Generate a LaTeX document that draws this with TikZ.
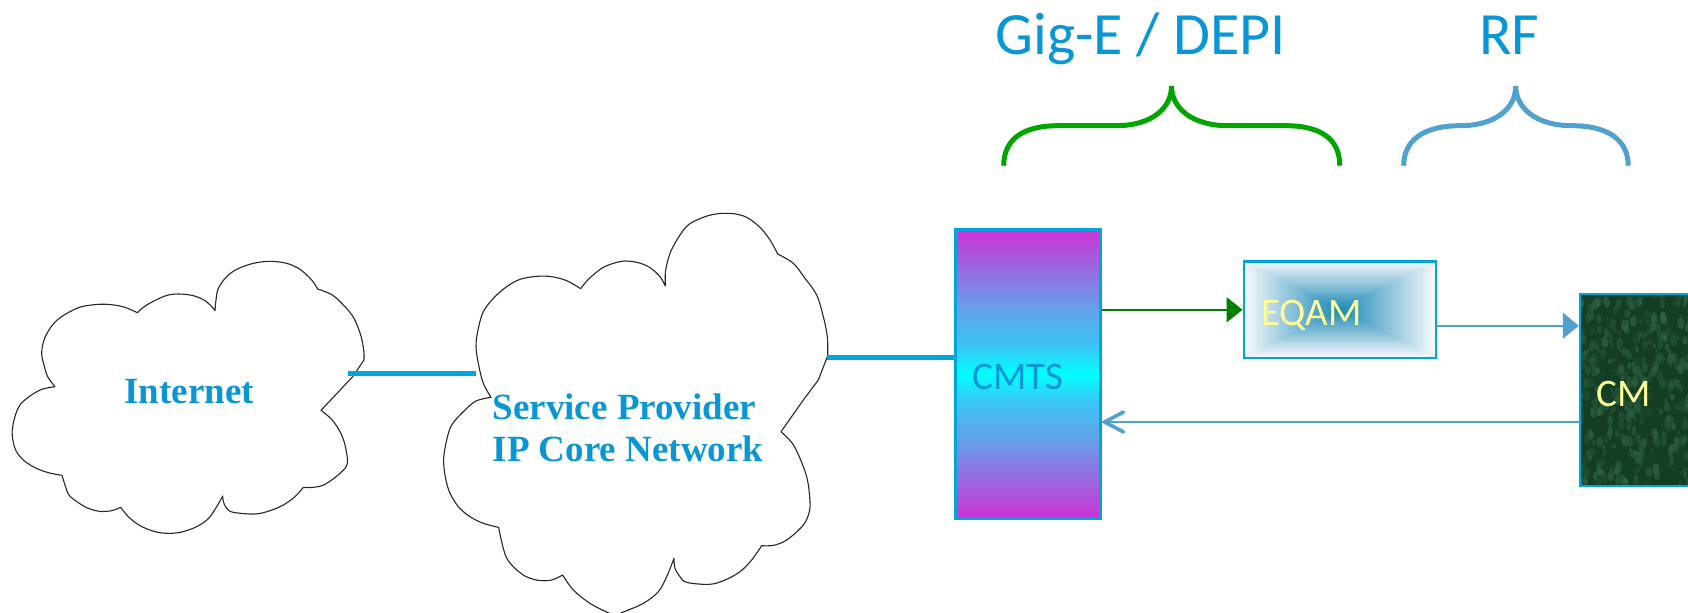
\documentclass[tikz,border=0pt]{standalone}
\usepackage{fontspec}
\setmainfont{Liberation Serif}
\newfontfamily\boxfont{Carlito}
\usetikzlibrary{arrows.meta}
\definecolor{linkblue}{RGB}{0,165,220}
\definecolor{labelblue}{RGB}{8,150,215}
\definecolor{rfblue}{RGB}{80,160,208}
\definecolor{bracegreen}{RGB}{0,165,0}
\definecolor{arrowgreen}{RGB}{0,128,0}
\definecolor{cmtspink}{RGB}{205,50,215}
\definecolor{cmtsblue}{RGB}{98,163,234}
\definecolor{cmtssky}{RGB}{60,196,245}
\definecolor{eqamcore}{RGB}{25,135,180}
\definecolor{eqamedge}{RGB}{245,249,252}
\definecolor{cmgreen}{RGB}{20,62,36}
\definecolor{cmspot}{RGB}{70,135,95}
\definecolor{paleyellow}{RGB}{255,255,153}
\pgfdeclareverticalshading{cmtsfade}{100bp}{color(0bp)=(cmtspink); color(25bp)=(cmtspink); color(39bp)=(cmtsblue); color(45bp)=(cmtssky); color(50bp)=(cyan); color(55bp)=(cmtssky); color(61bp)=(cmtsblue); color(75bp)=(cmtspink); color(100bp)=(cmtspink)}
\tikzset{
  cloudline/.style={draw=black!85, line width=0.55pt, line join=round},
  cloudarc/.style={smooth, tension=0.55},
  cloudtext/.style={text=labelblue, inner sep=0pt, anchor=base west, align=left, font=\fontsize{18.5}{21}\selectfont\bfseries},
  boxline/.style={draw=linkblue, line width=1.25pt, inner sep=0pt},
  boxtext/.style={inner sep=0pt, anchor=base west, font=\boxfont\fontsize{19.5}{24}\selectfont},
  toptext/.style={text=labelblue, inner sep=0pt, anchor=base west, font=\boxfont\fontsize{30}{36}\selectfont},
  corelink/.style={linkblue, line width=2.75pt},
  brace/.style={line width=2.5pt}
}
\begin{document}
\begin{tikzpicture}[x=0.5pt,y=-0.5pt]
  \useasboundingbox (0,0) rectangle (1688,612);

  \begin{scope}[shift={(0,200)},x=0.16667pt,y=-0.16667pt]
    \draw[cloudline] plot[cloudarc] coordinates {(412,338) (440,315) (495,288) (535,282) (580,287) (615,302) (640,325) (645,332)}
      -- plot[cloudarc] coordinates {(645,332) (648,300) (655,265) (680,230) (712,207) (760,190) (810,184) (860,190) (900,208) (935,240) (953,267)}
      -- plot[cloudarc] coordinates {(953,267) (997,285) (1035,320) (1062,355) (1082,405) (1091,450) (1092,480)}
      -- (1058,530) -- (963,631)
      -- plot[cloudarc] coordinates {(963,631) (995,658) (1020,695) (1035,735) (1042,790) (1020,820) (975,853) (940,862) (910,862)}
      -- plot[cloudarc] coordinates {(910,862) (885,890) (850,915) (810,932) (765,942) (700,937) (680,925) (670,905) (668,888)}
      -- plot[cloudarc] coordinates {(668,888) (650,920) (625,956) (590,980) (545,996) (505,1000) (465,995) (420,977) (385,950) (362,922)}
      -- plot[cloudarc] coordinates {(362,922) (335,932) (300,934) (265,925) (235,908) (207,885) (195,855) (186,826)}
      -- plot[cloudarc] coordinates {(186,826) (145,818) (105,803) (70,780) (47,750) (37,710) (38,680) (48,640) (62,612) (90,588) (125,568) (165,560)}
      -- plot[cloudarc] coordinates {(165,560) (143,530) (132,495) (125,460) (132,420) (150,385) (175,357) (210,335) (245,320) (295,313) (335,314) (375,322) (412,338)} -- cycle;
  \end{scope}
  \begin{scope}[shift={(430,200)},x=0.16667pt,y=-0.16667pt]
    \draw[cloudline] plot[cloudarc] coordinates {(452,266) (475,238) (515,205) (550,190) (585,183) (625,188) (660,203) (690,230) (706,258)}
      -- plot[cloudarc] coordinates {(706,258) (707,210) (722,155) (750,105) (778,72) (825,50) (865,41) (910,41) (950,52) (990,82) (1020,120) (1043,162)}
      -- plot[cloudarc] coordinates {(1043,162) (1090,190) (1125,235) (1160,285) (1180,350) (1192,410) (1193,467)}
      -- (1165,540) -- (1120,600) -- (1053,695)
      -- plot[cloudarc] coordinates {(1053,695) (1087,730) (1110,775) (1130,830) (1138,880) (1139,930) (1120,975) (1070,1020) (1030,1036) (995,1037)}
      -- plot[cloudarc] coordinates {(995,1037) (965,1080) (930,1115) (885,1140) (838,1153) (770,1147) (750,1130) (735,1105) (732,1075)}
      -- plot[cloudarc] coordinates {(732,1075) (710,1130) (685,1175) (640,1210) (580,1236) (555,1245) (530,1236) (480,1210) (430,1170) (398,1125)}
      -- plot[cloudarc] coordinates {(398,1125) (365,1140) (325,1141) (285,1128) (250,1100) (228,1070) (215,1025) (206,982)}
      -- plot[cloudarc] coordinates {(206,982) (160,970) (120,950) (85,920) (58,875) (45,825) (41,775) (50,720) (65,675) (100,635) (138,603) (183,592)}
      -- plot[cloudarc] coordinates {(183,592) (160,550) (147,500) (138,440) (145,385) (160,335) (190,295) (230,260) (270,238) (320,229) (365,230) (410,242) (452,266)} -- cycle;
  \end{scope}

  \node[cloudtext] (internet) at (124,403.7) {Internet};
  \node[cloudtext] (provider) at (492.3,461.7) {Service Provider\\IP Core Network};

  \node[boxline, minimum width=72.3pt, minimum height=144.5pt, shading=cmtsfade] (cmts) at (1028,373.8) {};
  \node[boxline, minimum width=96.2pt, minimum height=48.2pt,
    path picture={
      \foreach \i in {0,...,50}{
        \pgfmathsetmacro\halfw{96*(1-\i/50)}
        \pgfmathsetmacro\halfh{48*(1-\i/50)}
        \pgfmathsetmacro\mixval{2*\i}
        \fill[eqamcore!\mixval!eqamedge] (-\halfw,-\halfh) rectangle (\halfw,\halfh);
      }
    }] (eqam) at (1340,309.8) {};
  \node[boxline, minimum width=80pt, minimum height=96pt, fill=cmgreen,
    path picture={
      \pgfmathsetseed{11}
      \foreach \i in {1,...,700}{
        \pgfmathsetmacro\spotx{-80+rnd*160}
        \pgfmathsetmacro\spoty{-96+rnd*192}
        \pgfmathsetmacro\spotr{0.6+rnd*2.4}
        \pgfmathsetmacro\spotmix{20+rnd*50}
        \fill[cmspot!\spotmix!cmgreen, opacity=0.5] (\spotx,\spoty) ellipse (\spotr*1.2 and \spotr*2);
      }
      \fill[cmspot, opacity=0.7] (-4,187) ellipse (24 and 9);
    }] (cm) at (1660,390) {};

  \node[boxtext, text=labelblue] (cmtslabel) at (972.4,389) {CMTS};
  \node[boxtext, text=paleyellow] (eqamlabel) at (1260.6,325) {EQAM};
  \node[boxtext, text=paleyellow] (cmlabel) at (1596,406.8) {CM};
  \node[toptext] (gigelabel) at (995,54.2) {Gig-E / DEPI};
  \node[toptext] (rflabel) at (1478.7,54.2) {RF};

  \coordinate (inetport) at (348,373.7);
  \coordinate (coreleft) at (476,373.7);
  \coordinate (coreright) at (827,357.7);
  \coordinate (cmtsup) at (cmts.west |- coreright);
  \coordinate (cmtsout) at (cmts.east |- eqam.west);
  \coordinate (eqamout) at (1436.2,325.7);
  \coordinate (cmin) at (cm.west |- eqamout);
  \coordinate (cmout) at (1579.8,422);
  \coordinate (cmtsin) at (cmts.east |- cmout);

  \draw[corelink] (inetport) -- (coreleft);
  \draw[corelink] (coreright) -- (cmtsup);
  \draw[arrowgreen, line width=1pt, -{Triangle[length=8pt,width=12.5pt]}] (cmtsout) -- (eqam.west);
  \draw[rfblue, line width=1pt, -{Triangle[length=8pt,width=13pt]}] (eqamout) -- (cmin);
  \draw[rfblue, line width=1pt] (cmout) -- (cmtsin);
  \draw[rfblue, line width=1.8pt, line cap=round] ([shift={(22,-10)}]cmtsin) -- ([xshift=1.5pt]cmtsin) -- ([shift={(22,10)}]cmtsin);

  \draw[brace, bracegreen] (1003.7,165.7) .. controls (1003.7,140) and (1022,125.7) .. (1058,125.7) -- (1116,125.7) .. controls (1152,125.7) and (1171.5,108) .. (1171.5,86) .. controls (1171.5,108) and (1192,125.7) .. (1228,125.7) -- (1286,125.7) .. controls (1322,125.7) and (1339.8,140) .. (1339.8,165.7);
  \draw[brace, rfblue] (1403.7,165.7) .. controls (1403.7,140) and (1424,125.7) .. (1460,125.7) .. controls (1496,125.7) and (1515.7,108) .. (1515.7,86) .. controls (1515.7,108) and (1536,125.7) .. (1572,125.7) .. controls (1608,125.7) and (1628.2,140) .. (1628.2,165.7);
\end{tikzpicture}
\end{document}
